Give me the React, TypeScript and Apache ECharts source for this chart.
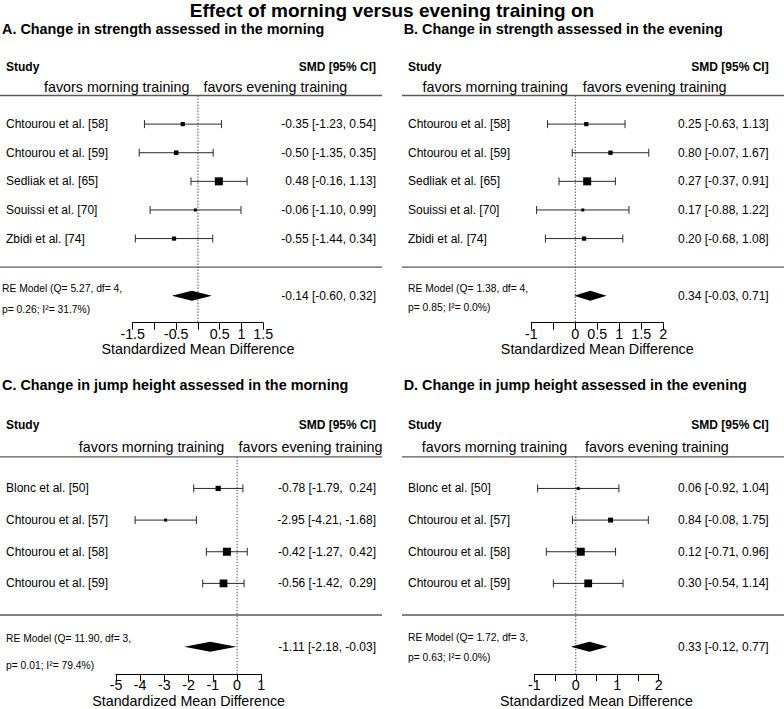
import React, { useEffect, useRef } from 'react';
import * as echarts from 'echarts';

// ---------------- DATA ----------------
const MAIN_TITLE = 'Effect of morning versus evening training on';
const PANEL_TITLES = [
  'A. Change in strength assessed in the morning',
  'B. Change in strength assessed in the evening',
  'C. Change in jump height assessed in the morning',
  'D. Change in jump height assessed in the evening',
];
const AXIS_NAME = 'Standardized Mean Difference';
const HEADER_STUDY = 'Study';
const HEADER_SMD = 'SMD [95% CI]';
const FAVORS_MORNING = 'favors morning training';
const FAVORS_EVENING = 'favors evening training';

const STRENGTH_STUDIES = ['Chtourou et al. [58]', 'Chtourou et al. [59]', 'Sedliak et al. [65]', 'Souissi et al. [70]', 'Zbidi et al. [74]'];
const JUMP_STUDIES = ['Blonc et al. [50]', 'Chtourou et al. [57]', 'Chtourou et al. [58]', 'Chtourou et al. [59]'];

// Panel A
const A_EST = [-0.35, -0.5, 0.48, -0.06, -0.55];
const A_LB = [-1.23, -1.35, -0.16, -1.1, -1.44];
const A_UB = [0.54, 0.35, 1.13, 0.99, 0.34];
const A_SUMMARY = [-0.14, -0.6, 0.32]; // estimate, lower, upper
const A_HET = [5.27, 4, 0.26, 31.7]; // Q, df, p, I2
const A_TICK_LABELS = ['-1.5', '-0.5', '0.5', '1', '1.5'];

// Panel B
const B_EST = [0.25, 0.8, 0.27, 0.17, 0.2];
const B_LB = [-0.63, -0.07, -0.37, -0.88, -0.68];
const B_UB = [1.13, 1.67, 0.91, 1.22, 1.08];
const B_SUMMARY = [0.34, -0.03, 0.71];
const B_HET = [1.38, 4, 0.85, 0.0];
const B_TICK_LABELS = ['-1', '0', '0.5', '1', '1.5', '2'];

// Panel C
const C_EST = [-0.78, -2.95, -0.42, -0.56];
const C_LB = [-1.79, -4.21, -1.27, -1.42];
const C_UB = [0.24, -1.68, 0.42, 0.29];
const C_SUMMARY = [-1.11, -2.18, -0.03];
const C_HET = [11.9, 3, 0.01, 79.4];
const C_TICK_LABELS = ['-5', '-4', '-3', '-2', '-1', '0', '1'];

// Panel D
const D_EST = [0.06, 0.84, 0.12, 0.3];
const D_LB = [-0.92, -0.08, -0.71, -0.54];
const D_UB = [1.04, 1.75, 0.96, 1.14];
const D_SUMMARY = [0.33, -0.12, 0.77];
const D_HET = [1.72, 3, 0.63, 0.0];
const D_TICK_LABELS = ['-1', '0', '1', '2'];

// ---------------- LAYOUT ----------------
const FONT = "'Liberation Sans', Arial, Helvetica, sans-serif";

type Layout = {
  left: number; width: number; top: number; height: number;
  xMin: number; xMax: number; interval: number; yMin: number;
  x0: number; x1: number; labelX: number; reX: number; valueX: number;
  titleX: number; titleY: number; re1: number; re2: number; favL: number; favR: number;
};

const LAYOUTS: Layout[] = [
  { left: 132.7, width: 130.5, top: 95.5, height: 227.2, xMin: -1.5, xMax: 1.5, interval: 0.5, yMin: -1.94, x0: 0, x1: 382, labelX: 6, reX: 2, valueX: 376, titleX: 2, titleY: 29.3, re1: -7.7, re2: 13.3, favL: -8.5, favR: 5.5 },
  { left: 531.3, width: 132, top: 95.5, height: 227.2, xMin: -1, xMax: 2, interval: 0.5, yMin: -1.94, x0: 402, x1: 784, labelX: 408, reX: 408, valueX: 768.7, titleX: 403.7, titleY: 29.3, re1: -7.7, re2: 11.6, favL: -7.3, favR: 7.4 },
  { left: 116, width: 145.3, top: 456.8, height: 220.5, xMin: -5, xMax: 1, interval: 1, yMin: -1.87, x0: 0, x1: 382, labelX: 6, reX: 6, valueX: 376, titleX: 2, titleY: 385, re1: -8.3, re2: 18.4, favL: -12.8, favR: 1.5 },
  { left: 534.3, width: 124.4, top: 456.8, height: 220.5, xMin: -1, xMax: 2, interval: 0.5, yMin: -1.87, x0: 402, x1: 784, labelX: 408, reX: 408, valueX: 768.7, titleX: 403.7, titleY: 385, re1: -9.5, re2: 10.8, favL: -8.5, favR: 9.2 },
];

type PanelData = {
  studies: string[]; est: number[]; lb: number[]; ub: number[];
  summary: number[]; het: number[]; ticks: string[];
};

const PANELS: PanelData[] = [
  { studies: STRENGTH_STUDIES, est: A_EST, lb: A_LB, ub: A_UB, summary: A_SUMMARY, het: A_HET, ticks: A_TICK_LABELS },
  { studies: STRENGTH_STUDIES, est: B_EST, lb: B_LB, ub: B_UB, summary: B_SUMMARY, het: B_HET, ticks: B_TICK_LABELS },
  { studies: JUMP_STUDIES, est: C_EST, lb: C_LB, ub: C_UB, summary: C_SUMMARY, het: C_HET, ticks: C_TICK_LABELS },
  { studies: JUMP_STUDIES, est: D_EST, lb: D_LB, ub: D_UB, summary: D_SUMMARY, het: D_HET, ticks: D_TICK_LABELS },
];

const LINE_COLOR = '#5a5a5a';
const WHISKER_COLOR = '#2a2a2a';

function txt(x: number, y: number, text: string, size: number, align: string, weight: string = 'normal', extra: any = {}) {
  return {
    type: 'text', x, y, silent: true,
    style: {
      text, fill: '#000', fontSize: size, fontWeight: weight, fontFamily: FONT,
      align, textAlign: align, verticalAlign: 'middle', textVerticalAlign: 'middle', ...extra,
    },
  };
}

function padCol(arr: string[]) {
  const w = Math.max(...arr.map((s) => s.length));
  return arr.map((s) => s.padStart(w, ' '));
}

function tickText(v: number) {
  return String(Number(v.toFixed(2)));
}

function buildPanel(P: PanelData, L: Layout, idx: number) {
  const k = P.studies.length;
  const ests = padCol([...P.est, P.summary[0]].map((v) => v.toFixed(2)));
  const lbs = padCol([...P.lb, P.summary[1]].map((v) => v.toFixed(2)));
  const ubs = padCol([...P.ub, P.summary[2]].map((v) => v.toFixed(2)));
  const valueText = ests.map((e, i) => `${e} [${lbs[i]}, ${ubs[i]}]`);

  // inverse-variance weights -> square size
  const w = P.lb.map((lo, i) => {
    const se = (P.ub[i] - lo) / 3.92;
    return 1 / (se * se);
  });
  const wMin = Math.min(...w);
  const wMax = Math.max(...w);
  const sizes = w.map((x) => 3 + 5 * ((x - wMin) / (wMax - wMin || 1)));

  const grid = { left: L.left, top: L.top, width: L.width, height: L.height, containLabel: false };
  const xAxis = {
    gridIndex: idx, type: 'value', min: L.xMin, max: L.xMax, interval: L.interval, position: 'bottom',
    axisLine: { show: true, onZero: false, lineStyle: { color: '#000', width: 1 } },
    axisTick: { show: true, length: 7, inside: false, lineStyle: { color: '#000', width: 1 } },
    splitLine: { show: false },
    axisLabel: {
      show: true, margin: 4, fontSize: 14.3, lineHeight: 14.3, color: '#000', fontFamily: FONT,
      formatter: (v: number) => (P.ticks.includes(tickText(v)) ? tickText(v) : ''),
    },
    name: AXIS_NAME, nameLocation: 'middle', nameGap: 19.5, nameMoveOverlap: false,
    nameTextStyle: { fontSize: 14.3, lineHeight: 14.3, color: '#000', fontFamily: FONT, verticalAlign: 'top' },
  };
  const yAxis = { gridIndex: idx, type: 'value', min: L.yMin, max: k + 1, show: false };

  const frame = {
    type: 'custom', xAxisIndex: idx, yAxisIndex: idx, clip: false, silent: true, z: 1,
    data: [[0, 0]], encode: { x: 0, y: 1 },
    renderItem: (_params: any, api: any) => {
      const top = api.coord([0, k + 1]);
      const sep = api.coord([0, 0]);
      const bottom = api.coord([0, L.yMin]);
      const hdr = api.coord([0, k + 2]);
      const fav = api.coord([0, k + 1.3]);
      return {
        type: 'group',
        children: [
          { type: 'line', shape: { x1: L.x0, y1: top[1], x2: L.x1, y2: top[1] }, style: { stroke: LINE_COLOR, lineWidth: 1.3 } },
          { type: 'line', shape: { x1: L.x0, y1: sep[1], x2: L.x1, y2: sep[1] }, style: { stroke: LINE_COLOR, lineWidth: 1.3 } },
          { type: 'line', shape: { x1: top[0], y1: top[1], x2: bottom[0], y2: bottom[1] }, style: { stroke: '#555', lineWidth: 1, lineDash: [1.5, 1.5] } },
          txt(L.labelX, hdr[1], HEADER_STUDY, 12, 'left', 'bold'),
          txt(L.valueX, hdr[1], HEADER_SMD, 12, 'right', 'bold'),
          txt(fav[0] + L.favL, fav[1], FAVORS_MORNING, 14.3, 'right'),
          txt(fav[0] + L.favR, fav[1], FAVORS_EVENING, 14.3, 'left'),
        ],
      };
    },
  };

  const rows = {
    type: 'custom', xAxisIndex: idx, yAxisIndex: idx, clip: false, silent: true, z: 2,
    data: P.est.map((e, i) => [e, k - i, i]), encode: { x: 0, y: 1 },
    renderItem: (_params: any, api: any) => {
      const i = api.value(2);
      const yv = k - i;
      const lo = api.coord([P.lb[i], yv]);
      const hi = api.coord([P.ub[i], yv]);
      const c = api.coord([P.est[i], yv]);
      const y = c[1];
      const s = sizes[i];
      const cap = 4;
      return {
        type: 'group',
        children: [
          { type: 'line', shape: { x1: lo[0], y1: y, x2: hi[0], y2: y }, style: { stroke: WHISKER_COLOR, lineWidth: 1 } },
          { type: 'line', shape: { x1: lo[0], y1: y - cap, x2: lo[0], y2: y + cap }, style: { stroke: WHISKER_COLOR, lineWidth: 1 } },
          { type: 'line', shape: { x1: hi[0], y1: y - cap, x2: hi[0], y2: y + cap }, style: { stroke: WHISKER_COLOR, lineWidth: 1 } },
          { type: 'rect', shape: { x: c[0] - s / 2, y: y - s / 2, width: s, height: s }, style: { fill: '#000' } },
          txt(L.labelX, y, P.studies[i], 12, 'left'),
          txt(L.valueX, y, valueText[i], 12, 'right'),
        ],
      };
    },
  };

  const [Q, df, p, I2] = P.het;
  const re1 = `RE Model (Q= ${Q.toFixed(2)}, df= ${df},`;
  const re2 = `p= ${p.toFixed(2)}; I²= ${I2.toFixed(1)}%)`;

  const summary = {
    type: 'custom', xAxisIndex: idx, yAxisIndex: idx, clip: false, silent: true, z: 2,
    data: [[P.summary[0], -1]], encode: { x: 0, y: 1 },
    renderItem: (_params: any, api: any) => {
      const lo = api.coord([P.summary[1], -1]);
      const hi = api.coord([P.summary[2], -1]);
      const c = api.coord([P.summary[0], -1]);
      const y = c[1];
      const h = 5;
      return {
        type: 'group',
        children: [
          { type: 'polygon', shape: { points: [[lo[0], y], [c[0], y - h], [hi[0], y], [c[0], y + h]] }, style: { fill: '#000' } },
          txt(L.reX, y + L.re1, re1, 10.3, 'left'),
          txt(L.reX, y + L.re2, re2, 10.3, 'left'),
          txt(L.valueX, y, valueText[k], 12, 'right'),
        ],
      };
    },
  };

  return { grid, xAxis, yAxis, series: [frame, rows, summary] };
}

export default function App() {
  const ref = useRef<HTMLDivElement>(null);
  useEffect(() => {
    if (!ref.current) return;
    const chart = echarts.init(ref.current, undefined, { renderer: 'svg' });
    const built = PANELS.map((P, i) => buildPanel(P, LAYOUTS[i], i));
    const graphics: any[] = [
      txt(392, 10.5, MAIN_TITLE, 19, 'center', 'bold'),
      ...PANEL_TITLES.map((t, i) => txt(LAYOUTS[i].titleX, LAYOUTS[i].titleY, t, 14.4, 'left', 'bold')),
    ];
    chart.setOption({
      animation: false,
      backgroundColor: '#fff',
      grid: built.map((b) => b.grid),
      xAxis: built.map((b) => b.xAxis),
      yAxis: built.map((b) => b.yAxis),
      series: built.flatMap((b) => b.series),
      graphic: { elements: graphics },
    } as any);
    return () => chart.dispose();
  }, []);
  return <div ref={ref} style={{ position: 'absolute', left: 0, top: 0, width: 784, height: 709, background: '#fff' }} />;
}
